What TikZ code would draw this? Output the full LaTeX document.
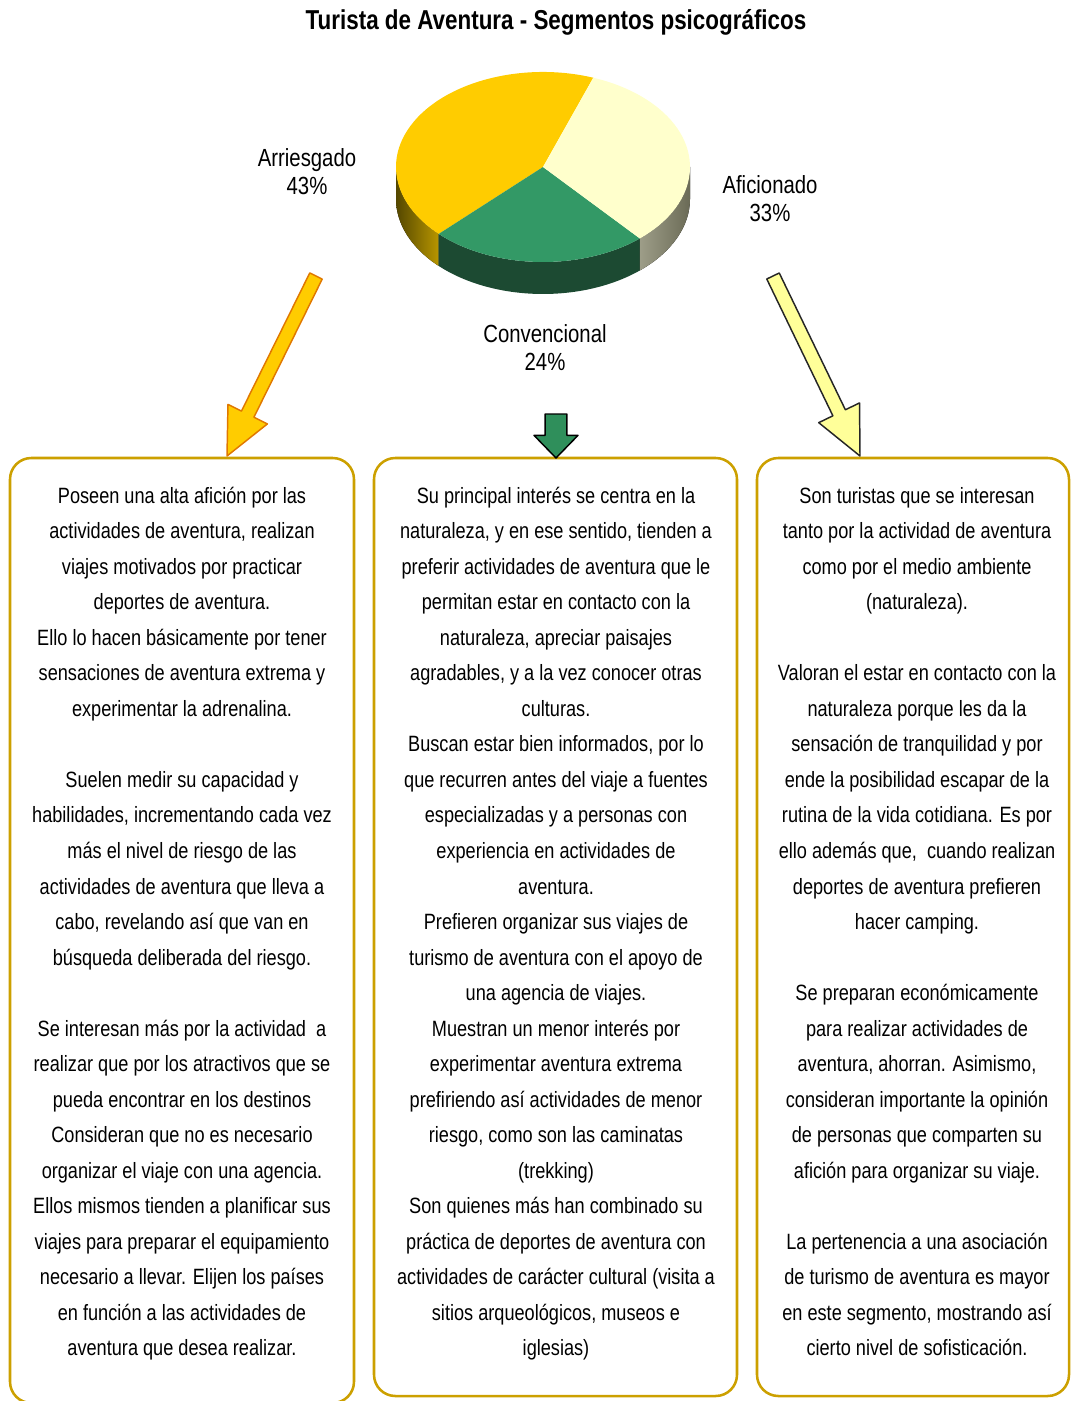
\documentclass[tikz,border=0pt]{standalone}
\usepackage{fontspec}
\setmainfont{Liberation Sans}[FakeStretch=0.82]
\usepackage{tikz}
\usetikzlibrary{calc}
\definecolor{boxgold}{HTML}{CCA000}
\definecolor{pieyellow}{HTML}{FFCC00}
\definecolor{piegreen}{HTML}{339966}
\definecolor{pielight}{HTML}{FFFFCC}
\definecolor{sideyellowdark}{HTML}{544700}
\definecolor{sideyellow}{HTML}{B89600}
\definecolor{sidegreen}{HTML}{1C4A32}
\definecolor{sidelight}{HTML}{85856B}
\definecolor{arroworange}{HTML}{E07800}
\definecolor{arrowpale}{HTML}{FFFF99}
\definecolor{arrowgreen}{HTML}{2F8F5B}
\tikzset{segbox/.style = {draw=boxgold, line width=1.9pt, rounded corners=16pt}}
\tikzset{segtext/.style = {anchor=north, inner sep=0, align=center, text=black, font=\fontsize{16.6pt}{26.65pt}\selectfont}}
\tikzset{pielabel/.style = {align=center, inner sep=0, font=\fontsize{18.6pt}{21pt}\selectfont}}
\newcommand{\blockarrow}[6]{
   \coordinate (hb) at ($ (#2)!#5!(#1) $);
   \path[#6] ($ (#1)!#3!90:(#2) $) -- ($ (hb)!#3!-90:(#1) $) -- ($ (hb)!#4!-90:(#1) $) -- (#2)
      -- ($ (hb)!#4!90:(#1) $) -- ($ (hb)!#3!90:(#1) $) -- ($ (#1)!#3!-90:(#2) $) -- cycle;
}
\newcommand{\pieside}[3]{
   \fill[#3] ($ (pc)+(#1:147 and 95) $) arc[start angle=#1, end angle=#2, x radius=147, y radius=95]
      -- ++(0,32) arc[start angle=#2, end angle=#1, x radius=147, y radius=95] -- cycle;
}
\newcommand{\pietop}[3]{
   \fill[#3] (pc) -- ($ (pc)+(#1:147 and 95) $) arc[start angle=#1, end angle=#2, x radius=147, y radius=95] -- cycle;
}

\begin{document}
\begin{tikzpicture}[x=0.75pt, y=-0.75pt]
		\useasboundingbox (0,0) rectangle (1071,1401);
		
		% Title
		\node[font=\fontsize{20.5pt}{24pt}\selectfont\bfseries] (title) at (556,22) {Turista de Aventura - Segmentos psicográficos};
		
		% Pie
		\coordinate (pc) at (543,167);
		\pieside{-180}{-224.8}{left color=sideyellowdark, right color=sideyellow}
		\pieside{-224.8}{-311.2}{sidegreen}
		\pieside{-311.2}{-360}{left color=sidelight!80!white, right color=sidelight!80!black}
		\pietop{-70}{-224.8}{pieyellow}
		\pietop{-224.8}{-311.2}{piegreen}
		\pietop{-311.2}{-430}{pielight}
		
		% Labels
		\node[pielabel] (lblA) at (307,172) {Arriesgado\\43\%};
		\node[pielabel] (lblB) at (545,348) {Convencional\\24\%};
		\node[pielabel] (lblC) at (770,199) {Aficionado\\33\%};
		
		% Boxes
		\draw[segbox] (10,458) rectangle (354,1403);
		\draw[segbox] (374,458) rectangle (737,1396);
		\draw[segbox] (757,458) rectangle (1069,1396);
		
		% Arrows
		\coordinate (tailA) at (316,276);
		\coordinate (tipA) at (227,456);
		\coordinate (tailB) at (556,414);
		\coordinate (tipB) at (556,458);
		\coordinate (tailC) at (773,276);
		\coordinate (tipC) at (860,456);
		\blockarrow{tailA}{tipA}{5.2pt}{16.5pt}{35pt}{fill=pieyellow, draw=arroworange, line width=1.1pt, line join=round}
		\blockarrow{tailB}{tipB}{8.2pt}{16.5pt}{17pt}{fill=arrowgreen, draw=black, line width=1.1pt, line join=round}
		\blockarrow{tailC}{tipC}{5.2pt}{17pt}{36pt}{fill=arrowpale, draw=black!85, line width=1.1pt, line join=round}
		
		% Texts
		\node[segtext] (txtA) at (182,478) {\strut Poseen una alta afición por las\\
			actividades de aventura, realizan\\
			viajes motivados por practicar\\
			deportes de aventura.\\
			Ello lo hacen básicamente por tener\\
			sensaciones de aventura extrema y\\
			experimentar la adrenalina.\\
			\strut\\
			Suelen medir su capacidad y\\
			habilidades, incrementando cada vez\\
			más el nivel de riesgo de las\\
			actividades de aventura que lleva a\\
			cabo, revelando así que van en\\
			búsqueda deliberada del riesgo.\\
			\strut\\
			Se interesan más por la actividad\ \ a\\
			realizar que por los atractivos que se\\
			pueda encontrar en los destinos\\
			Consideran que no es necesario\\
			organizar el viaje con una agencia.\\
			Ellos mismos tienden a planificar sus\\
			viajes para preparar el equipamiento\\
			necesario a llevar. Elijen los países\\
			en función a las actividades de\\
			aventura que desea realizar.};
		\node[segtext] (txtB) at (556,478) {\strut Su principal interés se centra en la\\
			naturaleza, y en ese sentido, tienden a\\
			preferir actividades de aventura que le\\
			permitan estar en contacto con la\\
			naturaleza, apreciar paisajes\\
			agradables, y a la vez conocer otras\\
			culturas.\\
			Buscan estar bien informados, por lo\\
			que recurren antes del viaje a fuentes\\
			especializadas y a personas con\\
			experiencia en actividades de\\
			aventura.\\
			Prefieren organizar sus viajes de\\
			turismo de aventura con el apoyo de\\
			una agencia de viajes.\\
			Muestran un menor interés por\\
			experimentar aventura extrema\\
			prefiriendo así actividades de menor\\
			riesgo, como son las caminatas\\
			(trekking)\\
			Son quienes más han combinado su\\
			práctica de deportes de aventura con\\
			actividades de carácter cultural (visita a\\
			sitios arqueológicos, museos e\\
			iglesias)};
		\node[segtext] (txtC) at (917,478) {\strut Son turistas que se interesan\\
			tanto por la actividad de aventura\\
			como por el medio ambiente\\
			(naturaleza).\\
			\strut\\
			Valoran el estar en contacto con la\\
			naturaleza porque les da la\\
			sensación de tranquilidad y por\\
			ende la posibilidad escapar de la\\
			rutina de la vida cotidiana. Es por\\
			ello además que,\ \ cuando realizan\\
			deportes de aventura prefieren\\
			hacer camping.\\
			\strut\\
			Se preparan económicamente\\
			para realizar actividades de\\
			aventura, ahorran. Asimismo,\\
			consideran importante la opinión\\
			de personas que comparten su\\
			afición para organizar su viaje.\\
			\strut\\
			La pertenencia a una asociación\\
			de turismo de aventura es mayor\\
			en este segmento, mostrando así\\
			cierto nivel de sofisticación.};
	\end{tikzpicture}
\end{document}
